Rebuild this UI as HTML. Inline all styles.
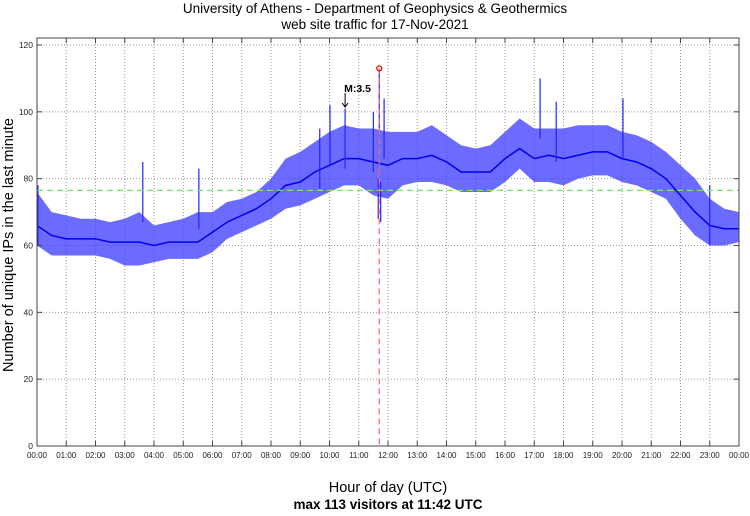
<!DOCTYPE html>
<html><head><meta charset="utf-8"><style>
body{margin:0;background:#fff;}
svg text{font-family:"Liberation Sans",sans-serif;}
</style></head><body>
<svg id="chart" width="750" height="511" xmlns="http://www.w3.org/2000/svg">
<text x="375" y="13" font-size="13.5" text-anchor="middle">University of Athens - Department of Geophysics &amp; Geothermics</text>
<text x="375" y="29" font-size="13.5" text-anchor="middle">web site traffic for 17-Nov-2021</text>
<text transform="translate(13,245) rotate(-90)" font-size="14.5" text-anchor="middle">Number of unique IPs in the last minute</text>
<text x="388" y="492" font-size="14.5" text-anchor="middle">Hour of day (UTC)</text>
<text x="388" y="509" font-size="13.5" font-weight="bold" text-anchor="middle">max 113 visitors at 11:42 UTC</text>
<g id="grid"></g>
<g id="series"></g>
<g id="overlay"></g>
<g id="axes"></g>
</svg>
<script>
// minutes of day for each sample (every 30 min)
const sampleMinutes=[0,30,60,90,120,150,180,210,240,270,300,330,360,390,420,450,480,510,540,570,600,630,660,690,720,750,780,810,840,870,900,930,960,990,1020,1050,1080,1110,1140,1170,1200,1230,1260,1290,1320,1350,1380,1410,1440];
const meanValues=[66,63,62,62,62,61,61,61,60,61,61,61,64,67,69,71,74,78,79,82,84,86,86,85,84,86,86,87,85,82,82,82,86,89,86,87,86,87,88,88,86,85,83,80,75,70,66,65,65];
const lowValues=[60,57,57,57,57,56,54,54,55,56,56,56,58,62,64,66,68,71,72,74,76,78,78,75,74,78,79,79,78,76,76,76,79,83,79,79,78,80,81,81,79,78,76,74,68,63,60,60,61];
const highValues=[76,70,69,68,68,67,68,70,66,67,68,70,70,73,74,76,80,86,88,91,94,96,95,95,94,94,94,96,93,90,89,90,94,98,95,95,95,96,96,96,94,93,91,88,84,80,74,71,70];
const spikeMinutes=[2,217,332,601,632,690,702,712,1032,1202,1065,580,1380];
const spikeValues=[78,85,83,102,101,100,113,104,110,104,103,95,78];
const dipMinutes=[700,705];
const dipValues=[68,67];
const yTicks=[0,20,40,60,80,100,120];
const xTickLabels=["00:00","01:00","02:00","03:00","04:00","05:00","06:00","07:00","08:00","09:00","10:00","11:00","12:00","13:00","14:00","15:00","16:00","17:00","18:00","19:00","20:00","21:00","22:00","23:00","00:00"];
const meanLine=76.5;
const maxMinute=702, maxValue=113;
const quakeMinute=632, quakeLabel="M:3.5";

const L=37,R=739,T=38,B=446;
const X=m=>L+(R-L)*m/1440;
const Y=v=>446-v*(401/120);
const NS="http://www.w3.org/2000/svg";
function mk(tag,parent,attrs){const e=document.createElementNS(NS,tag);for(const k in attrs)e.setAttribute(k,attrs[k]);document.getElementById(parent).appendChild(e);return e;}

yTicks.forEach(v=>{
 const g=mk('line','grid',{x1:L,x2:R,y1:Y(v),y2:Y(v),stroke:'#999','stroke-width':1,'stroke-dasharray':'1,2'});
 
 
 const t=mk('text','axes',{x:L-4,y:Y(v)+3,'font-size':8.5,'text-anchor':'end',fill:'#222'});
 t.textContent=v;
 
 
 mk('line','axes',{x1:L,x2:L+5,y1:Y(v),y2:Y(v),stroke:'#444'});
 mk('line','axes',{x1:R-5,x2:R,y1:Y(v),y2:Y(v),stroke:'#444'});
});
xTickLabels.forEach((s,i)=>{
 const x=X(i*60);
 const g=mk('line','grid',{x1:x,x2:x,y1:T,y2:B,stroke:'#999','stroke-width':1,'stroke-dasharray':'1,2'});
 
 
 const t=mk('text','axes',{x:x,y:458,'font-size':8,'text-anchor':'middle',fill:'#222'});
 t.textContent=s;
 
 
 mk('line','axes',{x1:x,x2:x,y1:T,y2:T+5,stroke:'#444'});
 mk('line','axes',{x1:x,x2:x,y1:B-5,y2:B,stroke:'#444'});
});
const fr=mk('rect','axes',{x:L,y:T,width:R-L,height:B-T,fill:'none',stroke:'#444'});



let pts=sampleMinutes.map((m,i)=>X(m)+','+Y(highValues[i]));
pts=pts.concat(sampleMinutes.slice().reverse().map((m,j)=>{const i=sampleMinutes.length-1-j;return X(m)+','+Y(lowValues[i]);}));
const band=mk('polygon','series',{points:pts.join(' '),fill:'#3a3aff','fill-opacity':0.75});


const ml=mk('polyline','series',{points:sampleMinutes.map((m,i)=>X(m)+','+Y(meanValues[i])).join(' '),fill:'none',stroke:'#0000ee','stroke-width':1.5});


spikeMinutes.forEach((m,i)=>{
 const s=mk('line','series',{x1:X(m),x2:X(m),y1:Y(spikeValues[i]),y2:Y(spikeValues[i]-18),stroke:'#2222ff','stroke-width':1.2});
 
 
});
dipMinutes.forEach((m,i)=>{
 const s=mk('line','series',{x1:X(m),x2:X(m),y1:Y(dipValues[i]),y2:Y(dipValues[i]+12),stroke:'#2222ff','stroke-width':1.2});
 
 
});

const g1=mk('line','overlay',{x1:L,x2:R,y1:Y(meanLine),y2:Y(meanLine),stroke:'#66ee66','stroke-width':1.2,'stroke-dasharray':'6,4'});


const r1=mk('line','overlay',{x1:X(maxMinute),x2:X(maxMinute),y1:Y(maxValue),y2:B,stroke:'#ff6666','stroke-width':1.2,'stroke-dasharray':'6,4'});


const c1=mk('circle','overlay',{cx:X(maxMinute),cy:Y(maxValue),r:2.5,fill:'none',stroke:'#ee0000','stroke-width':1.2});


const qa=mk('line','overlay',{x1:X(quakeMinute),x2:X(quakeMinute),y1:93,y2:107,stroke:'#000','stroke-width':1});


mk('polyline','overlay',{points:(X(quakeMinute)-3)+',103 '+X(quakeMinute)+',107 '+(X(quakeMinute)+3)+',103',fill:'none',stroke:'#000'});
const qt=mk('text','overlay',{x:X(quakeMinute)-1,y:92,'font-size':10.5,'font-weight':'bold'});
qt.textContent=quakeLabel;


</script>
</body></html>
